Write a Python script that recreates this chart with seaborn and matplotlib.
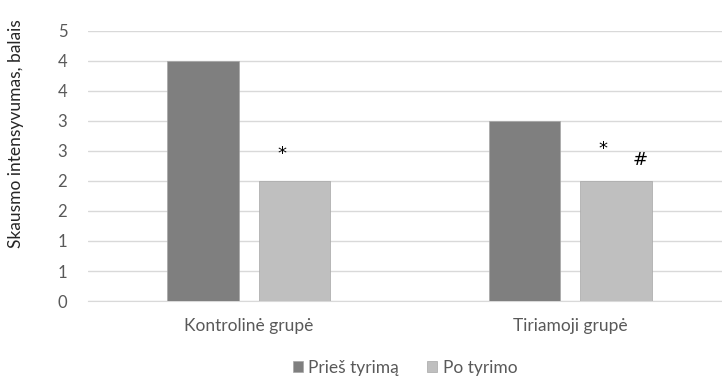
import seaborn as sns
import numpy as np
import pandas as pd
import matplotlib.pyplot as plt

# Pain intensity before / after, two groups
groups = ['Kontrolinė grupė', 'Tiriamoji grupė']
series = ['Prieš tyrimą', 'Po tyrimo']
before = [4.0, 3.0]
after = [2.0, 2.0]
yticks = [0, 0.5, 1, 1.5, 2, 2.5, 3, 3.5, 4, 4.5]
ytick_labels = ['0', '1', '1', '2', '2', '3', '3', '4', '4', '5']

df = pd.DataFrame({
    'grupe': groups * 2,
    'serija': [series[0]] * 2 + [series[1]] * 2,
    'balai': before + after,
})

sns.set_style('white')
plt.rcParams['font.family'] = ['Lato', 'DejaVu Sans']

fig = plt.figure(figsize=(7.22, 3.82), dpi=100)
ax = fig.add_axes([0.122, 0.212, 0.89, 0.707])

palette = {series[0]: '#7f7f7f', series[1]: '#bfbfbf'}
sns.barplot(data=df, x='grupe', y='balai', hue='serija', palette=palette,
            width=0.57, gap=0.22, ax=ax, legend=True, zorder=3,
            edgecolor='#a6a6a6', linewidth=0.5)

ax.set_ylim(0, 4.5)
ax.set_xlim(-0.5, 1.5)
ax.set_yticks(yticks)
ax.set_yticklabels(ytick_labels)
ax.yaxis.grid(True, color='#d9d9d9', linewidth=1, zorder=0)
ax.set_axisbelow(True)
for s in ['top', 'right', 'left']:
    ax.spines[s].set_visible(False)
ax.spines['bottom'].set_color('#d9d9d9')
ax.tick_params(axis='y', length=0, pad=15, labelsize=12, labelcolor='#595959')
ax.tick_params(axis='x', length=0, pad=12, labelsize=12.5, labelcolor='#595959')
ax.set_xlabel('')
ax.set_ylabel('Skausmo intensyvumas, balais', fontsize=12.5, color='#262626')
ax.yaxis.set_label_coords(-0.1, 0.62)

# significance marks above the "Po tyrimo" bars
post_bars = ax.containers[1]
marks = [[('*', -13, 2.45)], [('*', -13, 2.53), ('#', 24, 2.35)]]
for bar, mk in zip(post_bars, marks):
    cx = bar.get_x() + bar.get_width() / 2
    for sym, dx, yy in mk:
        ax.annotate(sym, xy=(cx, yy), xytext=(dx, 0), textcoords='offset pixels',
                    ha='center', va='center', fontsize=13, color='#000000',
                    family='DejaVu Sans')

leg = ax.legend(loc='center', bbox_to_anchor=(405 / 722, 14 / 382),
                bbox_transform=fig.transFigure, ncol=2, frameon=False,
                fontsize=12.5, handlelength=0.6, handleheight=0.6,
                handletextpad=0.3, columnspacing=1.6)
for t in leg.get_texts():
    t.set_color('#595959')

fig.savefig('out.png', dpi=100)
